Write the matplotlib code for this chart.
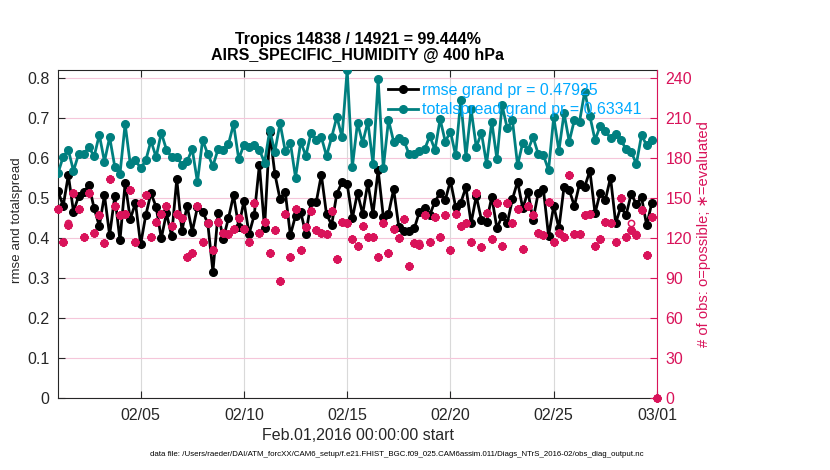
import numpy as np
import pandas as pd
import matplotlib
matplotlib.use('Agg')
import matplotlib.pyplot as plt
import matplotlib.dates as mdates
from matplotlib.ticker import FormatStrFormatter

plt.rcParams['font.family'] = ['Liberation Sans', 'DejaVu Sans']

# 6-hourly bins, Feb 1 2016 00Z .. Feb 29 18Z
times = pd.date_range('2016-02-01 00:00', periods=116, freq='6h')
count_times = pd.date_range('2016-02-01 00:00', periods=117, freq='6h')

rmse = [0.518, 0.480, 0.557, 0.466, 0.505, 0.515, 0.532, 0.474, 0.430, 0.507,
        0.407, 0.505, 0.394, 0.537, 0.447, 0.488, 0.384, 0.457, 0.512, 0.478,
        0.399, 0.462, 0.405, 0.547, 0.418, 0.480, 0.416, 0.477, 0.466, 0.437,
        0.316, 0.462, 0.398, 0.449, 0.507, 0.428, 0.492, 0.410, 0.457, 0.583,
        0.424, 0.665, 0.560, 0.497, 0.516, 0.407, 0.456, 0.465, 0.410, 0.490,
        0.489, 0.558, 0.459, 0.433, 0.511, 0.539, 0.535, 0.449, 0.513, 0.460,
        0.538, 0.460, 0.570, 0.453, 0.460, 0.522, 0.428, 0.418, 0.418, 0.424,
        0.466, 0.474, 0.458, 0.491, 0.513, 0.495, 0.543, 0.478, 0.488, 0.527,
        0.437, 0.505, 0.445, 0.441, 0.503, 0.424, 0.455, 0.437, 0.497, 0.541,
        0.474, 0.516, 0.445, 0.513, 0.522, 0.405, 0.480, 0.424, 0.528, 0.520,
        0.480, 0.535, 0.528, 0.568, 0.462, 0.513, 0.495, 0.551, 0.437, 0.478,
        0.457, 0.510, 0.485, 0.502, 0.432, 0.488]

spread = [0.562, 0.603, 0.620, 0.568, 0.610, 0.611, 0.627, 0.604, 0.658, 0.591,
          0.652, 0.578, 0.560, 0.685, 0.584, 0.595, 0.574, 0.594, 0.643, 0.602,
          0.663, 0.621, 0.602, 0.603, 0.583, 0.592, 0.622, 0.540, 0.645, 0.610,
          0.580, 0.622, 0.620, 0.634, 0.685, 0.597, 0.633, 0.628, 0.632, 0.621,
          0.588, 0.669, 0.616, 0.687, 0.618, 0.638, 0.551, 0.641, 0.605, 0.663,
          0.645, 0.652, 0.605, 0.652, 0.703, 0.652, 0.821, 0.577, 0.688, 0.638,
          0.691, 0.585, 0.797, 0.574, 0.695, 0.641, 0.649, 0.643, 0.609, 0.609,
          0.618, 0.622, 0.655, 0.620, 0.697, 0.641, 0.666, 0.607, 0.745, 0.603,
          0.722, 0.627, 0.663, 0.585, 0.691, 0.597, 0.732, 0.674, 0.695, 0.582,
          0.638, 0.620, 0.652, 0.610, 0.607, 0.570, 0.702, 0.618, 0.712, 0.641,
          0.695, 0.691, 0.766, 0.705, 0.645, 0.680, 0.668, 0.649, 0.660, 0.645,
          0.622, 0.616, 0.585, 0.657, 0.632, 0.645]

n_used = [142, 117, 130, 154, 142, 121, 154, 124, 137, 116,
          164, 144, 137, 138, 156, 117, 146, 152, 121, 132,
          138, 144, 129, 138, 135, 106, 109, 144, 117, 131,
          111, 132, 124, 123, 127, 135, 127, 117, 146, 124,
          132, 109, 126, 88, 138, 106, 142, 111, 128, 140,
          126, 124, 123, 140, 104, 132, 131, 119, 114, 129,
          121, 121, 106, 131, 109, 127, 120, 134, 99, 116,
          115, 137, 117, 136, 121, 137, 111, 138, 129, 131,
          117, 154, 113, 139, 119, 146, 114, 146, 131, 142,
          112, 144, 137, 124, 122, 147, 117, 124, 121, 167,
          123, 123, 137, 138, 114, 119, 132, 131, 117, 150,
          121, 126, 122, 141, 107, 136, 0]

n_poss = [142, 117, 131, 154, 142, 121, 154, 124, 137, 116,
          164, 144, 137, 138, 156, 117, 146, 152, 121, 132,
          138, 144, 129, 138, 135, 106, 109, 144, 117, 131,
          111, 132, 124, 123, 127, 135, 127, 117, 146, 124,
          132, 109, 126, 88, 138, 106, 142, 111, 128, 140,
          126, 124, 123, 140, 104, 132, 131, 119, 114, 129,
          121, 121, 106, 131, 109, 127, 120, 134, 99, 116,
          116, 137, 117, 136, 121, 137, 111, 138, 129, 131,
          117, 154, 113, 139, 119, 146, 114, 146, 131, 142,
          112, 144, 137, 124, 122, 147, 117, 124, 121, 167,
          123, 123, 137, 138, 114, 119, 132, 131, 117, 150,
          121, 131, 123, 141, 107, 136, 0]

teal = '#007f7f'
pink = '#d9135a'
dark = '#262626'

fig = plt.figure(figsize=(8.3, 4.7), dpi=100)
ax = fig.add_axes([58/830, 72/470, 599/830, 328/470])
ax2 = ax.twinx()

l1, = ax.plot(times, rmse, '-o', color='black', lw=2, ms=5.5,
              label='rmse grand pr = 0.47925', zorder=3)
l2, = ax.plot(times, spread, '-o', color=teal, lw=2, ms=5.5,
              label='totalspread grand pr = 0.63341', zorder=3)

ax2.plot(count_times, n_poss, 'o', mfc='none', mec=pink, mew=1.1, ms=4.5,
         clip_on=False)
ax2.plot(count_times, n_used, ls='none', marker=(8, 2, 0), color=pink,
         mew=1.7, ms=6, clip_on=False)

ax.set_xlim(pd.Timestamp('2016-02-01'), pd.Timestamp('2016-03-01'))
ax.set_ylim(0, 0.82)
ax2.set_ylim(0, 246)
ax.set_yticks(np.arange(0, 0.81, 0.1))
ax.yaxis.set_major_formatter(FormatStrFormatter('%g'))
ax2.set_yticks(np.arange(0, 241, 30))

xt = [pd.Timestamp(d) for d in ['2016-02-05', '2016-02-10', '2016-02-15',
                                 '2016-02-20', '2016-02-25', '2016-03-01']]
ax.set_xticks(xt)
ax.xaxis.set_major_formatter(mdates.DateFormatter('%m/%d'))

ax.grid(True, axis='x', color='#d9d9d9', lw=0.8)
ax.grid(True, axis='y', color='#f5c6da', lw=0.8)
ax.set_axisbelow(True)

ax.tick_params(axis='both', direction='in', length=5, labelsize=11.5,
               colors=dark, top=True, right=False, pad=6)
ax.tick_params(axis='x', pad=7)
ax2.tick_params(axis='y', direction='in', length=5, labelsize=11.5,
                colors=pink, pad=6)

for s in ['top', 'left', 'bottom']:
    ax.spines[s].set_color(dark)
    ax2.spines[s].set_visible(False)
ax.spines['right'].set_visible(False)
ax2.spines['right'].set_color(pink)

ax.set_ylabel('rmse and totalspread', fontsize=9.6, color=dark)
ax.yaxis.set_label_coords(-0.058, 0.543)
ax2.set_ylabel('# of obs: o=possible; \u2217=evaluated', fontsize=10.6,
               color=pink)
ax2.yaxis.set_label_coords(1.067, 0.5)
ax.set_xlabel('Feb.01,2016 00:00:00 start', fontsize=11.5, color=dark,
              labelpad=4)

ax.set_title('Tropics 14838 / 14921 = 99.444%\nAIRS_SPECIFIC_HUMIDITY @ 400 hPa',
             fontsize=11.5, fontweight='bold', color='black', pad=7,
             linespacing=1.1)

leg = ax.legend(handles=[l1, l2], loc='upper left',
                bbox_to_anchor=(388/830, 1 - 83/470), bbox_transform=fig.transFigure,
                frameon=False, fontsize=11.5, handlelength=1.9,
                handletextpad=0.2, borderpad=0, borderaxespad=0,
                labelspacing=0.27)
for t in leg.get_texts():
    t.set_color('#00aaff')

fig.text(397/830, 15/470,
         'data file: /Users/raeder/DAI/ATM_forcXX/CAM6_setup/f.e21.FHIST_BGC.f09_025.CAM6assim.011/Diags_NTrS_2016-02/obs_diag_output.nc',
         fontsize=5.7, ha='center', va='center', color='black')

fig.savefig('out.png', dpi=100)
